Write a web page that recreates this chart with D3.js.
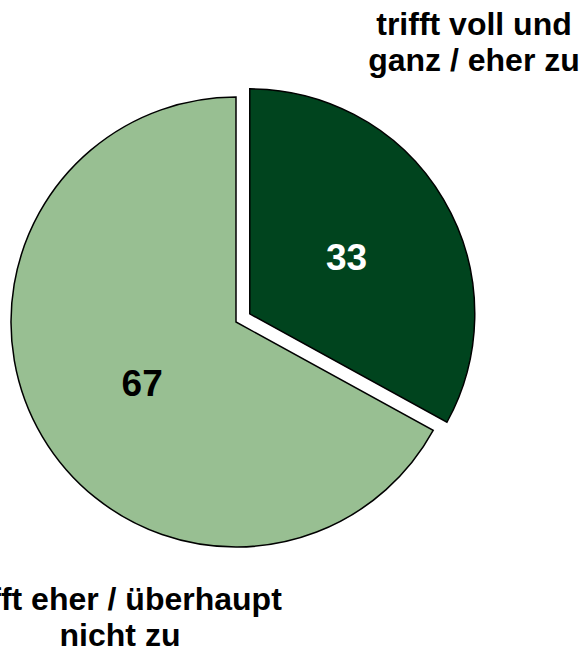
<!DOCTYPE html>
<html>
<head>
<meta charset="utf-8">
<script src="https://cdn.jsdelivr.net/npm/d3@7"></script>
<style>
  body { margin: 0; background: #fff; }
  text { font-family: "Liberation Sans", Arial, sans-serif; font-weight: bold; }
</style>
</head>
<body>
<div id="pie-chart"></div>
<script>
// Data
const categories = ['trifft voll und ganz / eher zu', 'trifft eher / überhaupt nicht zu'];
const values = [33, 67];
const label_lines = [['trifft voll und', 'ganz / eher zu'], ['trifft eher / überhaupt', 'nicht zu']];
const colors = ['#00441e', '#98bf92'];
const exploded = [true, false];

// SVG dimensions
const width = 581;
const height = 647;
const radius = 225;
const center = { x: 236, y: 322 };
const explode_offset = 16;

const svg = d3.select('#pie-chart')
    .append('svg')
    .attr('width', width)
    .attr('height', height);

const g = svg.append('g')
    .attr('transform', `translate(${center.x}, ${center.y})`);

// Pie layout, clockwise from 12 o'clock, keep input order
const pie = d3.pie()
    .sort(null)
    .value(d => d);
const arcs = pie(values);

const arc = d3.arc()
    .innerRadius(0)
    .outerRadius(radius);

// offset of a slice along its mid angle
const offset = (d, r) => {
    const a = (d.startAngle + d.endAngle) / 2;
    return [Math.sin(a) * r, -Math.cos(a) * r];
};

const slices = g.selectAll('.slice')
    .data(arcs)
    .join('g')
    .attr('class', 'slice')
    .attr('transform', (d, i) => {
        const [dx, dy] = exploded[i] ? offset(d, explode_offset) : [0, 0];
        return `translate(${dx}, ${dy})`;
    });

slices.append('path')
    .attr('d', arc)
    .attr('fill', (d, i) => colors[i])
    .attr('stroke', '#000')
    .attr('stroke-width', 1.5)
    .attr('stroke-linejoin', 'miter');

// Value labels inside the slices
slices.append('text')
    .text(d => d.data)
    .attr('font-size', 37)
    .attr('text-anchor', 'middle')
    .attr('dy', (d, i) => i === 0 ? '0.36em' : '0.45em')
    .attr('fill', (d, i) => i === 0 ? '#fff' : '#000')
    .attr('transform', d => {
        const [x, y] = offset(d, radius * 0.5);
        return `translate(${x + (d.data === 67 ? 3 : 0)}, ${y})`;
    });

// Category labels outside the pie
const label_pos = [{ x: 474, y: 35 }, { x: 120, y: 610 }];
const labels = svg.selectAll('.cat-label')
    .data(categories)
    .join('text')
    .attr('class', 'cat-label')
    .attr('font-size', 32)
    .attr('text-anchor', 'middle')
    .attr('fill', '#000');

labels.selectAll('tspan')
    .data((d, i) => label_lines[i].map(t => ({ t, i })))
    .join('tspan')
    .attr('x', d => label_pos[d.i].x)
    .attr('y', (d, j) => label_pos[d.i].y + j * 35.5)
    .text(d => d.t);
</script>
</body>
</html>
